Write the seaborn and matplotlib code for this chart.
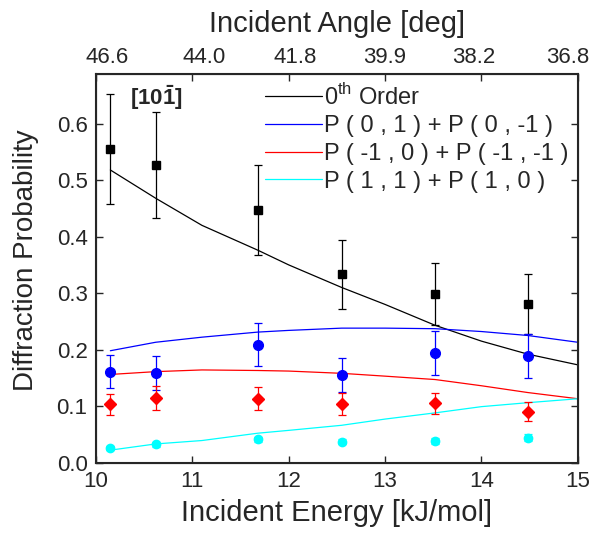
import numpy as np
import pandas as pd
import matplotlib
matplotlib.use("Agg")
import matplotlib.pyplot as plt
import seaborn as sns

# ------------------------------------------------------------
# data
# ------------------------------------------------------------
energy = [10.15, 10.62, 11.68, 12.55, 13.52, 14.48]

p00 = [0.555, 0.527, 0.447, 0.333, 0.299, 0.280]
p00_err = [0.097, 0.094, 0.080, 0.061, 0.055, 0.053]
p01 = [0.161, 0.159, 0.209, 0.155, 0.194, 0.189]
p01_err = [0.029, 0.030, 0.038, 0.030, 0.039, 0.039]
pm10 = [0.103, 0.114, 0.113, 0.104, 0.105, 0.090]
pm10_err = [0.019, 0.021, 0.020, 0.019, 0.019, 0.017]
p11 = [0.026, 0.032, 0.041, 0.037, 0.038, 0.044]
p11_err = [0.004, 0.004, 0.005, 0.004, 0.005, 0.006]

# theory curves
fit_energy = [10.15, 10.62, 11.1, 11.68, 12.0, 12.55, 13.0, 13.52, 14.0, 14.48, 15.0]
fit_00 = [0.518, 0.468, 0.420, 0.376, 0.350, 0.310, 0.280, 0.243, 0.215, 0.192, 0.173]
fit_01 = [0.198, 0.213, 0.222, 0.231, 0.234, 0.238, 0.238, 0.237, 0.232, 0.225, 0.213]
fit_m10 = [0.156, 0.161, 0.164, 0.163, 0.162, 0.158, 0.153, 0.147, 0.136, 0.124, 0.113]
fit_11 = [0.022, 0.033, 0.039, 0.052, 0.057, 0.066, 0.077, 0.088, 0.099, 0.106, 0.113]

energy_ticks = [10, 11, 12, 13, 14, 15]
# top axis labels sit between the tick marks in the original
angle_pos = [10.12, 11.12, 12.07, 13.0, 13.92, 14.9]
angle_labels = ["46.6", "44.0", "41.8", "39.9", "38.2", "36.8"]
y_ticks = [0.0, 0.1, 0.2, 0.3, 0.4, 0.5, 0.6]

labels = [r"0$^{\rm th}$ Order",
          "P ( 0 , 1 ) + P ( 0 , -1 )",
          "P ( -1 , 0 ) + P ( -1 , -1 )",
          "P ( 1 , 1 ) + P ( 1 , 0 )"]
colors = ["black", "#0000ff", "#ff0000", "#00ffff"]

# ------------------------------------------------------------
# style
# ------------------------------------------------------------
sns.set_style("ticks")
plt.rcParams["font.family"] = ["Liberation Sans", "DejaVu Sans"]
plt.rcParams["mathtext.fontset"] = "custom"
plt.rcParams["mathtext.rm"] = "Liberation Sans"
plt.rcParams["mathtext.bf"] = "Liberation Sans:bold"
plt.rcParams["xtick.direction"] = "in"
plt.rcParams["ytick.direction"] = "in"

fig = plt.figure(figsize=(5.92, 5.36), dpi=100)
ax = fig.add_axes([0.162, 0.137, 0.814, 0.725])

# curves
fits = [fit_00, fit_01, fit_m10, fit_11]
for fit, c, lab in zip(fits, colors, labels):
    df = pd.DataFrame({"E": fit_energy, "P": fit})
    sns.lineplot(data=df, x="E", y="P", color=c, lw=0.9, label=lab, ax=ax,
                 sort=False)

# measured points
points = [(p00, p00_err, "s", 6), (p01, p01_err, "o", 7),
          (pm10, pm10_err, "D", 6), (p11, p11_err, "o", 6)]
for (vals, err, mk, ms), c in zip(points, colors):
    ax.errorbar(energy, vals, yerr=err, fmt=mk, color=c, ms=ms, mec=c,
                elinewidth=0.9, capsize=3, capthick=0.9, zorder=3)

ax.set_xlim(10, 15)
ax.set_ylim(0, 0.688)
ax.set_xticks(energy_ticks)
ax.set_yticks(y_ticks)
ax.set_yticklabels([f"{v:.1f}" for v in y_ticks])
ax.tick_params(axis="both", labelsize=16, length=5, width=1.0,
               right=True, pad=6)
ax.set_xlabel("Incident Energy [kJ/mol]", fontsize=21, labelpad=5)
ax.set_ylabel("Diffraction Probability", fontsize=20)
ax.yaxis.set_label_coords(-0.118, 0.522)
for sp in ax.spines.values():
    sp.set_linewidth(1.5)
    sp.set_visible(True)

# top axis (incident angle)
top = ax.twiny()
top.set_xlim(ax.get_xlim())
top.xaxis.remove_overlapping_locs = False
top.set_xticks(energy_ticks)
top.set_xticklabels([])
top.set_xticks(angle_pos, minor=True)
top.set_xticklabels(angle_labels, minor=True)
top.tick_params(axis="x", which="major", length=5, width=1.0, direction="in")
top.tick_params(axis="x", which="minor", length=0, labelsize=16, pad=4)
top.set_xlabel("Incident Angle [deg]", fontsize=21, labelpad=11)

ax.text(10.63, 0.646, r"$\mathbf{[10\bar{1}]}$", fontsize=16,
        ha="center", va="center")

leg = ax.legend(loc="upper left", bbox_to_anchor=(0.351, 0.975), frameon=False,
                fontsize=17, handlelength=2.4, handletextpad=0.1,
                labelspacing=0.24, borderaxespad=0.0, borderpad=0.0)

fig.savefig("out.png", dpi=100)
